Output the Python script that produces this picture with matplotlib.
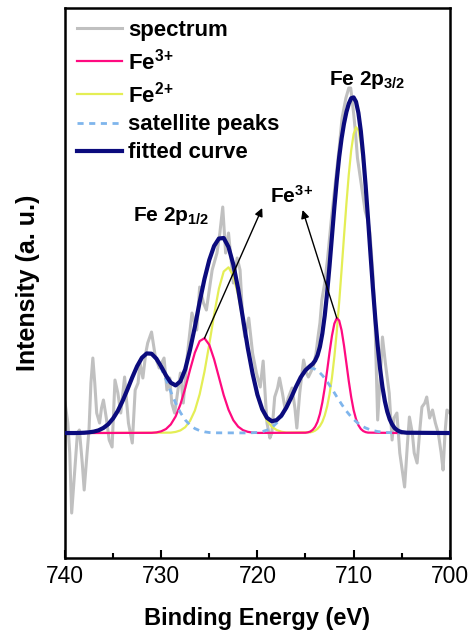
import numpy as np
import matplotlib
matplotlib.use('Agg')
import matplotlib.pyplot as plt
from matplotlib.ticker import MultipleLocator

plt.rcParams['font.family'] = ['Liberation Sans', 'DejaVu Sans']
plt.rcParams['mathtext.fontset'] = 'custom'
plt.rcParams['mathtext.rm'] = 'Liberation Sans:bold'
plt.rcParams['mathtext.it'] = 'Liberation Sans:bold'
plt.rcParams['mathtext.bf'] = 'Liberation Sans:bold'
plt.rcParams['mathtext.default'] = 'bf'

# raw spectrum (binding energy in eV, intensity in a.u.)
spec_E = [740.0, 739.7, 739.5, 739.3, 739.0, 738.7, 738.5, 738.2, 738.0, 737.7,
          737.5, 737.3, 737.1, 736.9, 736.7, 736.4, 736.2, 736.0, 735.7, 735.4,
          735.1, 734.8, 734.5, 734.2, 733.8, 733.4, 733.0, 732.7, 732.4, 732.2,
          731.9, 731.6, 731.4, 731.0, 730.6, 730.2, 729.7, 729.4, 729.1, 728.9,
          728.6, 728.3, 728.0, 727.7, 727.3, 726.8, 726.5, 726.3, 726.0, 725.6,
          725.3, 724.9, 724.7, 724.2, 723.9, 723.6, 723.3, 723.0, 722.7, 722.5,
          722.1, 721.8, 721.5, 721.3, 720.9, 720.5, 720.1, 719.7, 719.4, 719.2,
          719.0, 718.7, 718.5, 718.2, 717.9, 717.7, 717.4, 717.1, 716.8, 716.4,
          716.1, 715.9, 715.6, 715.2, 714.9, 714.7, 714.4, 714.2, 713.9, 713.7,
          713.5, 713.3, 713.0, 712.7, 712.3, 711.9, 711.5, 711.2, 710.8, 710.5,
          710.3, 710.0, 709.8, 709.6, 709.3, 709.0, 708.8, 708.5, 708.3, 708.0,
          707.8, 707.5, 707.2, 707.0, 706.7, 706.3, 706.0, 705.8, 705.5, 705.2,
          704.9, 704.7, 704.4, 704.2, 703.9, 703.7, 703.4, 703.1, 702.9, 702.6,
          702.4, 702.1, 701.8, 701.5, 701.2, 700.9, 700.7, 700.5, 700.3, 700.0]
spec_I = [31, 10, -20, -80, -40, 0, 3, -30, -57, -20,
          3, 50, 75, 50, 20, 10, 25, 33, 15, -7,
          -14, 53, 40, 20, 56, 10, -10, 43, 50, 70,
          55, 80, 90, 101, 76, 65, 75, 43, 55, 30,
          20, 40, 60, 30, 76, 120, 110, 103, 146, 130,
          123, 150, 163, 180, 200, 226, 180, 200, 170, 150,
          175, 163, 110, 96, 115, 80, 60, 46, 72, 40,
          10, -5, 0, 36, 45, 55, 40, 23, 35, 45,
          25, 5, 40, 73, 60, 56, 62, 66, 80, 96,
          110, 133, 150, 175, 215, 250, 285, 315, 335, 345,
          345, 320, 300, 275, 255, 235, 222, 212, 200, 160,
          120, 13, 60, 96, 70, 40, -7, 15, 20, -20,
          -40, -54, -10, 16, 0, -20, -30, 5, 26, 30,
          36, 15, 23, 10, 0, -20, -37, 0, 23, 20]

# Fe3+ components (2p1/2 and 2p3/2)
fe3_E = np.concatenate([[738], np.arange(731, 719.75, -0.5),
                        np.arange(715, 708.4, -0.25), [705]])
fe3_I = [0,
         0.2, 0.6, 1.7, 4, 8.6, 16.5, 28.6, 44.8, 63.2, 80.3, 91.9, 94.8,
         88.2, 73.8, 55.9, 37.9, 23.3, 12.8, 6.4, 2.9, 1.2, 0.4, 0.1,
         0.3, 0.7, 1.5, 3.2, 6.2, 11.2, 19.1, 30.5, 45.1, 62.4, 80.7, 97.3,
         109.4, 114.9, 112.5, 102.8, 87.6, 69.8, 51.8, 35.9, 23, 14, 7.8,
         4.1, 2, 0.9, 0.4,
         0]

# Fe2+ components
fe2_E = np.concatenate([[738], np.arange(729, 716.75, -0.5),
                        np.arange(714.5, 705.4, -0.25), [705]])
fe2_I = [0,
         0.4, 1.1, 2.6, 5.8, 12.1, 22.4, 38.7, 61.3, 88.8, 118.2, 144.3,
         161.5, 165.7, 157, 137.8, 111.7, 83.8, 58.8, 37.7, 22.4, 12.3, 6.3,
         3, 1.3, 0.5,
         0.7, 1.3, 2.4, 4.2, 7, 11.2, 17.6, 26.6, 38.9, 55.3, 76.3, 101.4,
         130.8, 162.9, 196.4, 229.1, 258.6, 282.7, 298.9, 305.8, 302.8, 290.1,
         268.9, 241.4, 209.6, 176.3, 143.3, 112.9, 86, 63.3, 45, 31.1, 20.8,
         13.4, 8.4, 5.1, 3,
         0]

# satellite peaks
sat_E = np.concatenate([np.arange(738, 724.4, -0.5), np.arange(721, 714.4, -0.5),
                        np.arange(714.25, 707.9, -0.25), [707.5, 707, 706.5, 706, 705]])
sat_I = [0.3, 0.7, 1.4, 2.7, 5.1, 8.8, 14.5, 22.2, 32.2, 43.7, 55.7, 66.8,
         75.3, 79.6, 79.1, 73.8, 64.8, 53.4, 41.3, 30, 20.5, 13.1, 7.9, 4.5,
         2.4, 1.2, 0.5, 0.2,
         0.1, 0.3, 0.6, 1.4, 2.9, 5.5, 9.9, 16.2, 24.8, 35.1, 46, 55.7, 62.5, 65,
         64.7, 63.8, 62.3, 60.2, 57.7, 54.7, 51.4, 47.8, 44.1, 40.2, 36.3, 32.6,
         28.8, 25.3, 22, 19, 16.2, 13.7, 11.5, 9.5, 7.8, 6.3, 5.1, 4.1, 3.2, 2.5,
         1.5, 0.9, 0.5, 0.3, 0]

# fitted envelope
fit_E = np.concatenate([np.arange(740, 714.4, -0.5), np.arange(714.25, 704.9, -0.25),
                        [704.5, 700]])
fit_I = [0, 0, 0, 0.1, 0.3, 0.7, 1.4, 2.7, 5.1, 8.8,
         14.5, 22.2, 32.2, 43.7, 55.7, 66.8, 75.3, 79.6, 79.3, 74.4,
         66.5, 57.6, 50.3, 47.6, 51.7, 63.7, 83.2, 106, 131, 154,
         173, 187, 194.5, 195, 186, 168.5, 144.2, 114.6, 85.1, 59.5,
         38.4, 23.8, 15.2, 11.8, 12.9, 17.5, 25.3, 35.1, 46, 55.7,
         62.8, 67.2,
         69.2, 72.4, 77.7, 86.3, 99.4, 117.4, 140.4, 167.4, 196.7, 225.9,
         252.6, 275.9, 294.5, 309.3, 320.9, 329.4, 334.8, 335.6, 331.3, 320.1,
         302, 277.2, 247.4, 214.1, 179.5, 145.8, 114.9, 87.5, 64.5, 45.9,
         31.8, 21.3, 13.8, 8.7, 5.1, 3, 1.7, 0.9,
         0.3, 0]

fig = plt.figure(figsize=(4.74, 6.36), dpi=100)
ax = fig.add_axes([0.137, 0.1226, 0.812, 0.8648])

ax.plot(spec_E, spec_I, color='#c0c0c0', lw=2.2, label='spectrum', zorder=1)
ax.plot(fe3_E, fe3_I, color='#ff0a80', lw=1.6, label=r'Fe$^{3\!+}$', zorder=3)
ax.plot(fe2_E, fe2_I, color='#e4ee55', lw=1.6, label=r'Fe$^{2\!+}$', zorder=2)
ax.plot(sat_E, sat_I, color='#7fb5ec', lw=2.0, ls=(0, (2.2, 2.0)),
        label='satellite peaks', zorder=4)
ax.plot(fit_E, fit_I, color='#0b0b7d', lw=3.0, label='fitted curve', zorder=5)

# arrows from the Fe3+ peak tops to the label
fe3_I = np.array(fe3_I)
hi = fe3_E > 718
p1 = np.argmax(fe3_I[hi])
p2 = np.argmax(fe3_I[~hi])
arrow = dict(arrowstyle='-|>', color='black', lw=1.0, mutation_scale=12,
             shrinkA=0, shrinkB=0)
ax.annotate('', xy=(719.5, 225), xytext=(fe3_E[hi][p1], fe3_I[hi][p1]),
            arrowprops=arrow, zorder=6)
ax.annotate('', xy=(715.3, 223), xytext=(fe3_E[~hi][p2], fe3_I[~hi][p2]),
            arrowprops=arrow, zorder=6)

ax.text(718.7, 237, r'Fe$^{3\!+}$', fontsize=15, fontweight='bold', va='center')
ax.text(732.9, 217, 'Fe 2p$_{1/2}$', fontsize=15, fontweight='bold', va='center')
ax.text(712.6, 353, 'Fe 2p$_{3/2}$', fontsize=15, fontweight='bold', va='center')

ax.set_xlim(740, 700)
ax.set_ylim(-125, 425)
ax.set_xticks([740, 730, 720, 710, 700])
ax.xaxis.set_minor_locator(MultipleLocator(5))
ax.set_yticks([])
ax.tick_params(axis='x', which='major', direction='in', length=6, width=1.5,
               labelsize=16.5, pad=5)
ax.tick_params(axis='x', which='minor', direction='in', length=3.5, width=1.5)
for s in ax.spines.values():
    s.set_linewidth(1.8)

ax.set_xlabel('Binding Energy (eV)', fontsize=17, fontweight='bold', labelpad=14)
ax.set_ylabel('Intensity (a. u.)', fontsize=18, fontweight='bold', labelpad=18)

ax.legend(loc='upper left', frameon=False, handlelength=2.0,
          handletextpad=0.3, labelspacing=0.32, borderaxespad=0.15,
          prop={'weight': 'bold', 'size': 16})

fig.savefig('out.png', dpi=100)
